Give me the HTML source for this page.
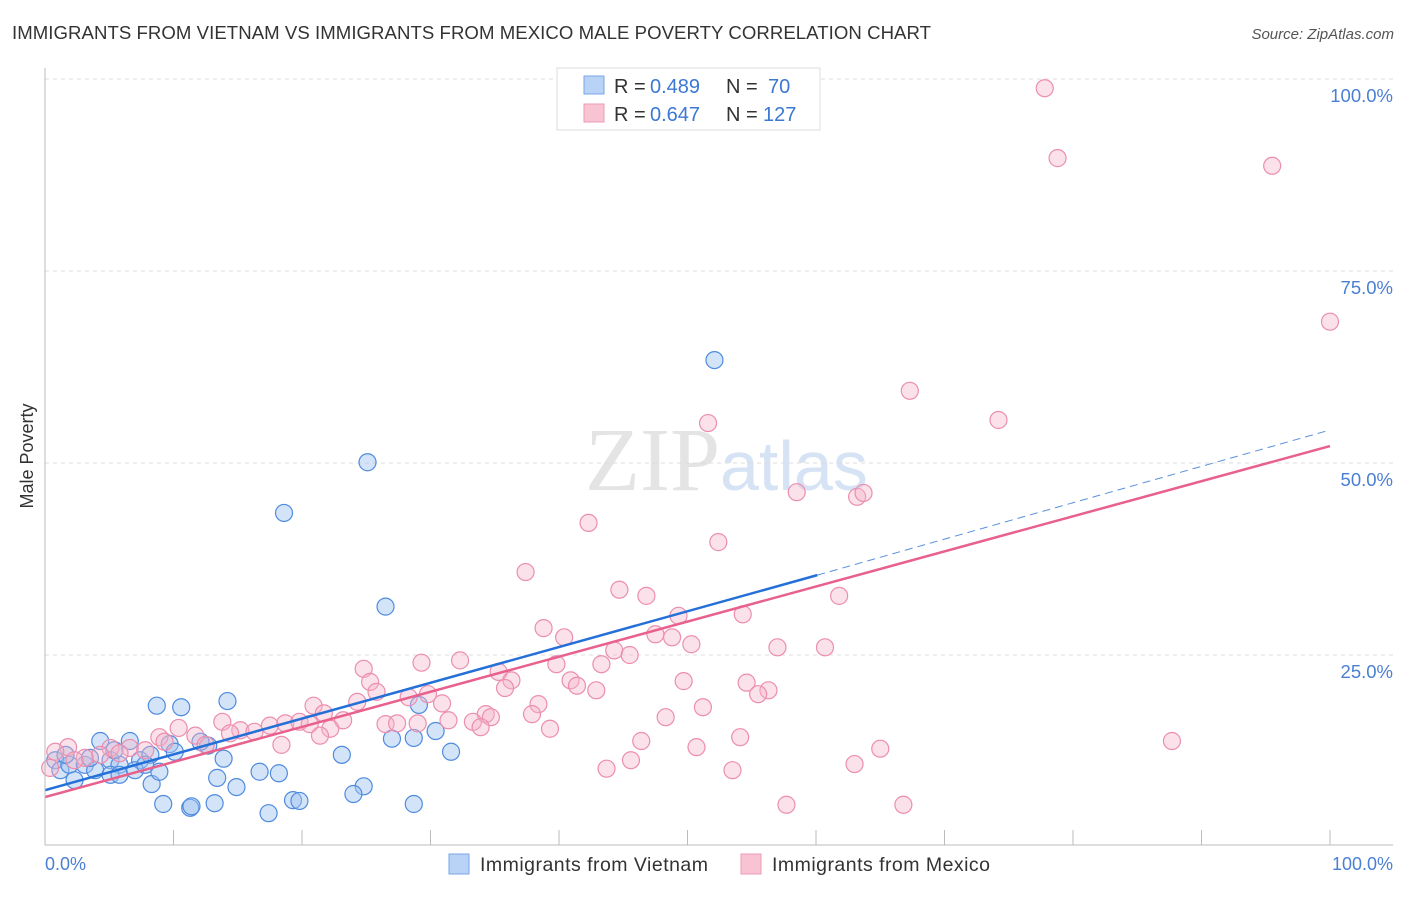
<!DOCTYPE html>
<html><head><meta charset="utf-8"><style>
body{margin:0;background:#fff;font-family:"Liberation Sans",sans-serif}
</style></head><body>
<svg width="1406" height="892" xmlns="http://www.w3.org/2000/svg" id="svg">
<text x="12" y="39" font-size="18.6" fill="#333" textLength="919">IMMIGRANTS FROM VIETNAM VS IMMIGRANTS FROM MEXICO MALE POVERTY CORRELATION CHART</text>
<text x="1394" y="39" font-size="15" fill="#555" font-style="italic" text-anchor="end">Source: ZipAtlas.com</text>
<text x="33" y="456" font-size="18" fill="#333" text-anchor="middle" transform="rotate(-90 33 456)">Male Poverty</text>
<text x="720" y="490" font-size="90" fill="#e4e4e4" font-family="Liberation Serif,serif" text-anchor="end">ZIP</text>
<text x="720" y="490" font-size="70" fill="#d5e3f5">atlas</text>
<g id="grid"></g><g id="blue"></g><g id="pink"></g><g id="lines"></g>
<line x1="45" y1="68" x2="45" y2="845" stroke="#bbb"/>
<line x1="45" y1="845" x2="1393" y2="845" stroke="#bbb"/>
<text x="45" y="870" font-size="18" fill="#4a7fd4">0.0%</text>
<text x="1393" y="870" font-size="18" fill="#4a7fd4" text-anchor="end">100.0%</text>
<rect x="557" y="68" width="263" height="62" fill="#fff" stroke="#ddd"/>
<rect x="584" y="76" width="20" height="18" fill="#b8d3f5" stroke="#7aa6e6"/>
<rect x="584" y="104" width="20" height="18" fill="#f8c4d4" stroke="#ee9ab5"/>
<g font-size="20" fill="#333">
<text x="614" y="93">R =</text><text x="650" y="93" fill="#3b78d4">0.489</text><text x="726" y="93">N =</text><text x="768" y="93" fill="#3b78d4">70</text></g>
<g font-size="20" fill="#333">
<text x="614" y="121">R =</text><text x="650" y="121" fill="#3b78d4">0.647</text><text x="726" y="121">N =</text><text x="763" y="121" fill="#3b78d4">127</text></g>
<rect x="449" y="854" width="20" height="20" fill="#b8d3f5" stroke="#7aa6e6"/>
<text x="480" y="871" font-size="19.5" fill="#333" textLength="228">Immigrants from Vietnam</text>
<rect x="741" y="854" width="20" height="20" fill="#f8c4d4" stroke="#ee9ab5"/>
<text x="772" y="871" font-size="19.5" fill="#333" textLength="218">Immigrants from Mexico</text>
</svg>
<script>
const yTicks=[25,50,75,100];
const yTickLabels=["25.0%","50.0%","75.0%","100.0%"];
const xTicks=[10,20,30,40,50,60,70,80,90,100];
const vietX=[52.1,25.1,18.6,26.5,8.7,10.6,14.2,29.1,30.4,27.0,28.7,31.6,23.1,13.9,16.7,18.2,13.4,14.9,8.3,24.8,24.0,9.2,13.2,11.3,11.4,19.3,19.8,17.4,28.7,4.3,6.6,9.7,12.7,0.8,1.2,1.9,3.1,3.9,5.1,5.8,7.4,8.2,2.3,5.1,5.8,8.9,7.0,7.8,1.6,3.5,5.4,10.1,12.1];
const vietY=[63.4,50.1,43.5,31.3,18.4,18.2,19.0,18.5,15.1,14.1,14.2,12.4,12.0,11.5,9.8,9.6,9.0,7.8,8.2,7.9,6.9,5.6,5.7,5.1,5.3,6.1,6.0,4.4,5.6,13.8,13.8,13.4,13.2,11.3,10.0,10.7,10.7,10.0,11.3,10.7,11.3,12.0,8.7,9.4,9.4,9.8,10.0,10.7,12.0,11.6,12.6,12.4,13.7];
const mexX=[77.8,78.8,95.5,100,67.3,74.2,51.6,58.5,63.2,63.7,42.3,52.4,37.4,44.7,46.8,61.8,54.3,49.3,38.8,40.4,47.5,48.8,50.3,57.0,60.7,44.3,45.5,32.3,29.3,24.8,39.8,43.3,35.3,36.3,25.3,40.9,49.7,54.6,56.3,55.5,35.8,41.4,42.9,25.8,29.8,28.3,38.4,51.2,24.3,30.9,20.9,34.3,37.9,21.7,23.2,48.3,29.0,31.4,33.3,34.7,26.5,27.4,33.9,39.3,22.2,10.4,13.8,17.5,18.7,19.8,20.6,21.4,54.1,46.4,87.7,50.7,65.0,18.4,15.2,16.3,11.7,8.9,9.3,6.6,5.1,1.8,0.8,3.1,4.3,5.8,7.8,12.5,14.4,45.6,63.0,43.7,53.5,57.7,66.8,0.4,2.3];
const mexY=[98.8,89.7,88.7,68.4,59.4,55.6,55.2,46.2,45.6,46.1,42.2,39.7,35.8,33.5,32.7,32.7,30.3,30.1,28.5,27.3,27.7,27.3,26.4,26.0,26.0,25.6,25.0,24.3,24.0,23.2,23.8,23.8,22.8,21.7,21.5,21.7,21.6,21.4,20.4,19.9,20.7,21.0,20.4,20.2,19.9,19.5,18.6,18.2,18.9,18.7,18.4,17.3,17.3,17.4,16.5,16.9,16.1,16.5,16.3,16.9,16.0,16.1,15.6,15.4,15.4,15.5,16.3,15.8,16.1,16.3,16.0,14.5,14.3,13.8,13.8,13.0,12.8,13.3,15.2,15.0,14.5,14.3,13.7,12.9,12.9,13.0,12.4,11.6,12.0,12.2,12.6,13.3,14.8,11.3,10.8,10.2,10.0,5.5,5.5,10.3,11.3];
const blueFit=[7.4,35.4,54.3];const blueFitX=[0,60.1,100];
const pinkFit=[6.5,52.2];
const sx=v=>45+v*12.85, sy=v=>847-v*7.68;
const NS="http://www.w3.org/2000/svg";
function mk(t,a,p){const e=document.createElementNS(NS,t);for(const k in a)e.setAttribute(k,a[k]);document.getElementById(p).appendChild(e);return e;}
yTicks.forEach((t,i)=>{
 const l=mk('line',{x1:45,x2:1393,y1:sy(t),y2:sy(t),stroke:'#ddd','stroke-dasharray':'4,4'},'grid');
 
 
 const tx=mk('text',{x:1393,y:sy(t)+23,'font-size':18.5,fill:'#4a7fd4','text-anchor':'end'},'grid');tx.textContent=yTickLabels[i];
 
 
});
xTicks.forEach(t=>{const l=mk('line',{x1:sx(t),x2:sx(t),y1:830,y2:845,stroke:'#bbb'},'grid');
 
 });
vietX.forEach((x,i)=>{const c=mk('circle',{cx:sx(x),cy:sy(vietY[i]),r:8.5,fill:'rgba(160,195,240,0.45)',stroke:'#4f8be0','stroke-width':1.2},'blue');
 
 });
mexX.forEach((x,i)=>{const c=mk('circle',{cx:sx(x),cy:sy(mexY[i]),r:8.5,fill:'rgba(246,180,200,0.4)',stroke:'#ec8eae','stroke-width':1.2},'pink');
 
 });
let b=mk('line',{x1:sx(blueFitX[0]),y1:sy(blueFit[0]),x2:sx(blueFitX[1]),y2:sy(blueFit[1]),stroke:'#2470d8','stroke-width':2.5},'lines');


let bd=mk('line',{x1:sx(blueFitX[1]),y1:sy(blueFit[1]),x2:sx(blueFitX[2]),y2:sy(blueFit[2]),stroke:'#5a90dc','stroke-width':1,'stroke-dasharray':'8,5'},'lines');


let p=mk('line',{x1:sx(0),y1:sy(pinkFit[0]),x2:sx(100),y2:sy(pinkFit[1]),stroke:'#e8608c','stroke-width':2.5},'lines');


</script>
</body></html>
